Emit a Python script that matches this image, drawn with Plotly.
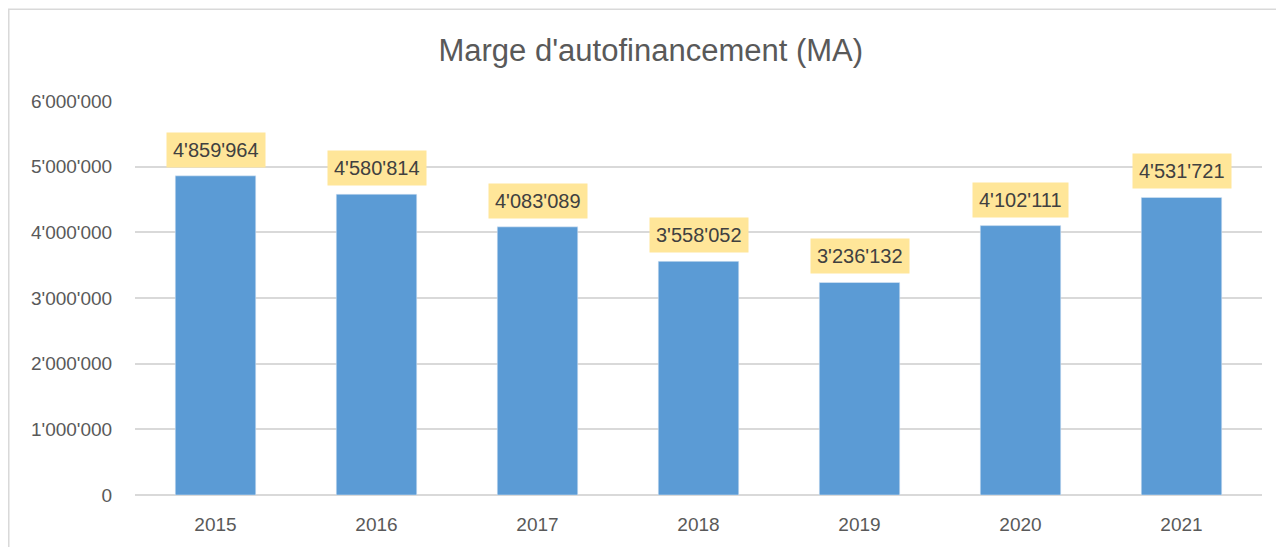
import plotly.graph_objects as go

years = ["2015", "2016", "2017", "2018", "2019", "2020", "2021"]
ma_values = [4859964, 4580814, 4083089, 3558052, 3236132, 4102111, 4531721]
y_ticks = [0, 1000000, 2000000, 3000000, 4000000, 5000000, 6000000]


def swiss(n):
    return f"{n:,}".replace(",", "'")


fig = go.Figure()

fig.add_trace(
    go.Bar(
        x=years,
        y=ma_values,
        marker=dict(color="#5B9BD5"),
        hoverinfo="x+y",
    )
)

# numeric-looking category names get read as indices, so place labels by index
for i, val in enumerate(ma_values):
    fig.add_annotation(
        x=i,
        y=val,
        text=swiss(val),
        showarrow=False,
        yanchor="bottom",
        yshift=8,
        bgcolor="#FFE699",
        borderpad=6,
        font=dict(family="Liberation Sans, Arial", size=20, color="#404040"),
    )

fig.add_shape(
    type="rect",
    xref="paper",
    yref="paper",
    x0=-0.112,
    x1=1.05,
    y0=-0.3,
    y1=1.23,
    line=dict(color="#D9D9D9", width=1.5),
    fillcolor="rgba(0,0,0,0)",
    layer="below",
)

fig.update_layout(
    width=1276,
    height=547,
    title=dict(
        text="Marge d'autofinancement (MA)",
        x=0.51,
        xanchor="center",
        y=0.908,
        yanchor="middle",
        font=dict(family="Liberation Sans, Arial", size=31, color="#595959"),
    ),
    margin=dict(l=135, r=14, t=100, b=52),
    plot_bgcolor="white",
    paper_bgcolor="white",
    bargap=0.5,
    showlegend=False,
    xaxis=dict(
        type="category",
        range=[-0.5, len(years) - 0.5],
        tickfont=dict(family="Liberation Sans, Arial", size=19, color="#595959"),
        showline=False,
        ticks="outside",
        ticklen=12,
        tickcolor="rgba(0,0,0,0)",
    ),
    yaxis=dict(
        range=[0, 6015000],
        tickvals=y_ticks,
        ticktext=[swiss(v) for v in y_ticks],
        tickfont=dict(family="Liberation Sans, Arial", size=19, color="#595959"),
        gridcolor="#D9D9D9",
        gridwidth=1.5,
        zeroline=True,
        zerolinecolor="#D9D9D9",
        zerolinewidth=1.5,
        ticks="outside",
        ticklen=18,
        tickcolor="rgba(0,0,0,0)",
    ),
)

fig.write_html(
    "out.html",
    config={"displayModeBar": False},
    post_script="document.body.style.margin='0';document.body.style.overflow='hidden';",
)
